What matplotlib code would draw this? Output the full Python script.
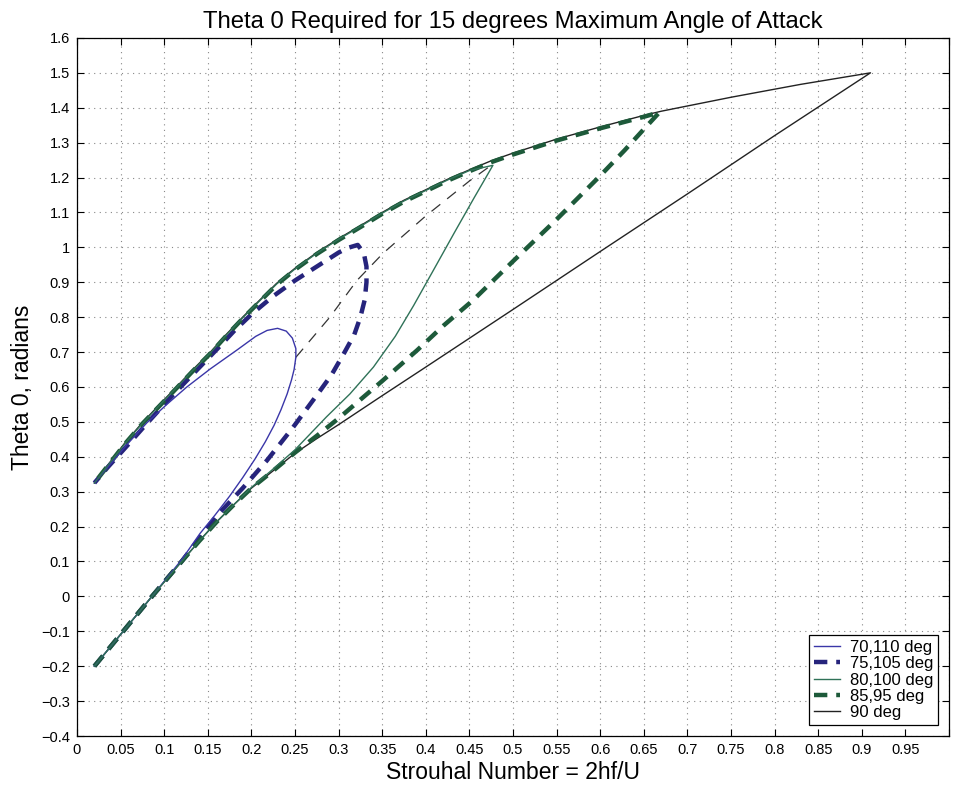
import matplotlib
matplotlib.use("Agg")
import matplotlib.pyplot as plt
import numpy as np

plt.rcParams['font.family'] = ['Liberation Sans', 'DejaVu Sans']

# ---- data (Strouhal number, theta0 in radians) ----
# 90 deg
x90_low = [0.02, 0.053, 0.086, 0.12, 0.14, 0.16, 0.18, 0.20, 0.225, 0.25, 0.275, 0.30, 0.35, 0.40, 0.50, 0.60, 0.70, 0.80, 0.91]
y90_low = [-0.20, -0.10, 0.00, 0.10, 0.158, 0.213, 0.263, 0.31, 0.36, 0.41, 0.452, 0.492, 0.575, 0.657, 0.822, 0.988, 1.153, 1.32, 1.50]
x90_up = [0.91, 0.83, 0.75, 0.67, 0.65, 0.60, 0.55, 0.50, 0.475, 0.45, 0.425, 0.40, 0.375, 0.35, 0.325, 0.30,
          0.275, 0.25, 0.229, 0.21, 0.19, 0.171, 0.153, 0.133, 0.114, 0.094, 0.074, 0.055, 0.035, 0.02]
y90_up = [1.50, 1.467, 1.43, 1.39, 1.378, 1.345, 1.31, 1.27, 1.248, 1.222, 1.195, 1.165, 1.135, 1.10, 1.062, 1.025,
          0.985, 0.94, 0.897, 0.85, 0.80, 0.75, 0.70, 0.65, 0.60, 0.548, 0.495, 0.44, 0.375, 0.325]

# 85,95 deg
x85_low = [0.02, 0.053, 0.086, 0.12, 0.14, 0.16, 0.18, 0.20, 0.225, 0.25, 0.275, 0.30, 0.328, 0.35, 0.39, 0.42,
           0.454, 0.50, 0.55, 0.60, 0.628, 0.647, 0.668]
y85_low = [-0.20, -0.10, 0.00, 0.10, 0.158, 0.213, 0.263, 0.31, 0.36, 0.412, 0.46, 0.51, 0.57, 0.617, 0.705, 0.775,
           0.848, 0.96, 1.08, 1.205, 1.278, 1.33, 1.387]
x85_up = [0.668, 0.65, 0.60, 0.55, 0.50, 0.475, 0.45, 0.425, 0.40, 0.375, 0.35, 0.325, 0.30, 0.275, 0.25, 0.229,
          0.21, 0.19, 0.171, 0.153, 0.133, 0.114, 0.094, 0.074, 0.055, 0.035, 0.02]
y85_up = [1.387, 1.374, 1.341, 1.306, 1.266, 1.244, 1.218, 1.191, 1.161, 1.131, 1.096, 1.058, 1.021, 0.981, 0.936,
          0.893, 0.846, 0.796, 0.746, 0.696, 0.646, 0.596, 0.544, 0.492, 0.437, 0.373, 0.325]

# 80,100 deg
x80_low = [0.02, 0.053, 0.086, 0.12, 0.14, 0.16, 0.18, 0.20, 0.225, 0.25, 0.286, 0.313, 0.34, 0.365, 0.386, 0.41,
           0.433, 0.455, 0.477]
y80_low = [-0.20, -0.10, 0.00, 0.10, 0.158, 0.213, 0.263, 0.312, 0.365, 0.42, 0.514, 0.58, 0.657, 0.745, 0.833, 0.94,
           1.043, 1.14, 1.235]
x80_up = [0.477, 0.45, 0.425, 0.40, 0.375, 0.35, 0.325, 0.30, 0.275, 0.25, 0.229, 0.21, 0.19, 0.171, 0.153, 0.133,
          0.114, 0.094, 0.074, 0.055, 0.035, 0.02]
y80_up = [1.235, 1.22, 1.193, 1.163, 1.133, 1.098, 1.06, 1.023, 0.983, 0.938, 0.895, 0.848, 0.798, 0.748, 0.698,
          0.648, 0.598, 0.546, 0.493, 0.438, 0.374, 0.325]

# 75,105 deg
x75_low = [0.02, 0.053, 0.086, 0.12, 0.14, 0.16, 0.19, 0.218, 0.248, 0.279, 0.292, 0.307, 0.318, 0.325, 0.330,
           0.332, 0.332, 0.329]
y75_low = [-0.20, -0.10, 0.00, 0.10, 0.165, 0.23, 0.31, 0.39, 0.485, 0.59, 0.635, 0.70, 0.75, 0.80, 0.85, 0.90,
           0.945, 0.983]
x75_up = [0.322, 0.31, 0.30, 0.275, 0.25, 0.225, 0.20, 0.18, 0.162, 0.14, 0.12, 0.10, 0.08, 0.058, 0.036, 0.02]
y75_up = [1.007, 0.998, 0.985, 0.945, 0.905, 0.86, 0.808, 0.76, 0.712, 0.655, 0.603, 0.55, 0.495, 0.433, 0.372, 0.325]

# 70,110 deg
x70_low = [0.02, 0.053, 0.086, 0.12, 0.141, 0.158, 0.175, 0.19, 0.204, 0.216, 0.226, 0.234, 0.241, 0.246, 0.249, 0.251]
y70_low = [-0.20, -0.10, 0.00, 0.105, 0.18, 0.232, 0.287, 0.34, 0.393, 0.443, 0.49, 0.535, 0.58, 0.62, 0.65, 0.685]
x70_up = [0.251, 0.247, 0.24, 0.23, 0.218, 0.205, 0.183, 0.153, 0.126, 0.103, 0.08, 0.058, 0.036, 0.02]
y70_up = [0.71, 0.74, 0.76, 0.768, 0.762, 0.745, 0.705, 0.652, 0.60, 0.55, 0.497, 0.437, 0.372, 0.325]

# locus of the turning points (thin dashed)
x_locus = [0.251, 0.29, 0.321, 0.351, 0.40, 0.45, 0.475]
y_locus = [0.685, 0.80, 0.905, 0.983, 1.09, 1.19, 1.235]

labels = ["70,110 deg", "75,105 deg", "80,100 deg", "85,95 deg", "90 deg"]
xticks = np.round(np.arange(0, 0.951, 0.05), 2)
yticks = np.round(np.arange(-0.4, 1.601, 0.1), 1)

def fmt(v):
    s = ("%.2f" % abs(v)).rstrip("0").rstrip(".")
    if v < -1e-9:
        s = "\u2212" + s
    return s

fig = plt.figure(figsize=(9.54, 7.87), dpi=100)
ax = fig.add_axes([0.0807, 0.0648, 0.914, 0.887])

blue_thin = "#3a36a8"
navy = "#26247c"
green_thin = "#2f7258"
green_thick = "#1d5a3a"

ax.plot(x70_low + x70_up, y70_low + y70_up, color=blue_thin, lw=1.0, label=labels[0], zorder=5)
ax.plot(x75_low + x75_up, y75_low + y75_up, color=navy, lw=3.2, dashes=(3, 2), label=labels[1], zorder=4)
ax.plot(x80_low + x80_up, y80_low + y80_up, color=green_thin, lw=1.0, label=labels[2], zorder=5)
ax.plot(x85_low + x85_up, y85_low + y85_up, color=green_thick, lw=3.2, dashes=(3, 2), label=labels[3], zorder=4)
ax.plot(x90_low + x90_up, y90_low + y90_up, color="#222222", lw=1.0, label=labels[4], zorder=3)
ax.plot(x_locus, y_locus, color="#333333", lw=0.9, dashes=(9, 7), zorder=3)

ax.set_xlim(0, 1.0)
ax.set_ylim(-0.4, 1.6)
ax.set_xticks(list(xticks) + [1.0])
ax.set_xticklabels([fmt(v) for v in xticks] + [""])
ax.set_yticks(yticks)
ax.set_yticklabels([fmt(v) for v in yticks])
ax.tick_params(direction="in", length=5, width=0.8, top=True, right=True, labelsize=10.5, pad=5)
ax.grid(True, linestyle=(0, (1, 4)), color="#888888", linewidth=0.8)
for s in ax.spines.values():
    s.set_linewidth(0.9)

ax.set_title("Theta 0 Required for 15 degrees Maximum Angle of Attack", fontsize=17.2, pad=7)
ax.set_xlabel("Strouhal Number = 2hf/U", fontsize=16.5, labelpad=3)
ax.set_ylabel("Theta 0, radians", fontsize=16.5, labelpad=5)

leg = ax.legend(loc="lower right", fontsize=12, fancybox=False, edgecolor="black",
                framealpha=1, handlelength=1.55, borderaxespad=0.65, labelspacing=0.08,
                borderpad=0.3, handletextpad=0.6)
leg.get_frame().set_linewidth(0.9)

fig.savefig("out.png", dpi=100)
